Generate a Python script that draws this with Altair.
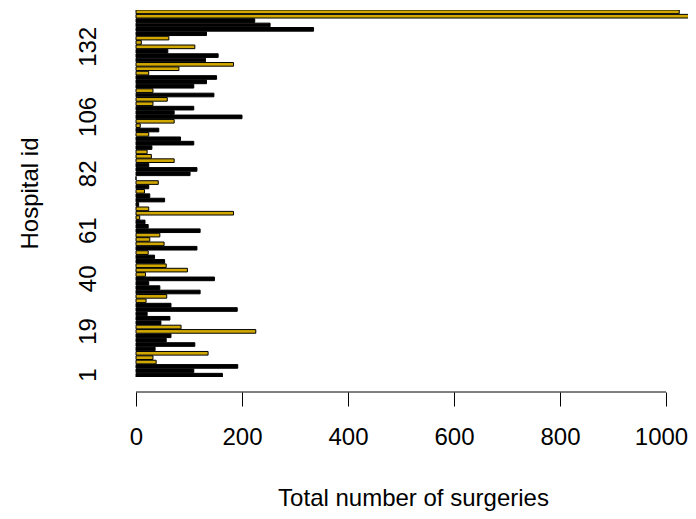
import altair as alt
import pandas as pd

# Hospital ids (bottom to top), total surgeries, and bar colour group
hospital_ids = [1, 3, 4, 6, 8, 10, 12, 13, 15, 17, 19,
                21, 22, 24, 26, 28, 29, 31, 33, 35, 36, 38, 40,
                42, 44, 45, 47, 49, 51, 53, 55, 57, 59, 61,
                63, 64, 66, 68, 70, 71, 72, 74, 75, 77, 79, 80, 82,
                84, 86, 88, 90, 92, 94, 96, 97, 99, 100, 102, 104, 106,
                108, 109, 111, 113, 115, 116, 118, 120, 121, 123, 124, 126, 127, 129, 130, 132,
                134, 136, 138, 139, 141, 143, 144, 146]
surgeries = [163, 109, 192, 38, 32, 136, 36, 111, 57, 66, 226,
             85, 47, 64, 21, 191, 66, 19, 58, 121, 45, 24, 148,
             18, 97, 57, 54, 35, 23, 115, 53, 26, 45, 121,
             23, 17, 7, 184, 24, 5, 54, 26, 16, 24, 42, 0, 102,
             115, 24, 72, 29, 21, 30, 109, 84, 24, 43, 8, 72, 200,
             72, 109, 32, 59, 147, 32, 109, 133, 152, 24, 81, 184, 131, 155, 60, 111,
             10, 62, 133, 335, 253, 224, 1090, 1025]
group = ["B", "B", "B", "G", "G", "G", "B", "B", "B", "B", "G",
         "G", "B", "B", "B", "B", "B", "G", "G", "B", "B", "B", "B",
         "G", "G", "G", "B", "B", "G", "B", "G", "G", "G", "B",
         "B", "B", "G", "G", "G", "B", "B", "B", "G", "B", "G", "B", "B",
         "B", "B", "G", "G", "G", "B", "B", "B", "G", "B", "G", "G", "B",
         "B", "B", "G", "G", "B", "G", "B", "B", "B", "G", "G", "G", "B", "B", "B", "G",
         "G", "G", "B", "B", "B", "B", "G", "G"]

y_tick_ids = [1, 19, 40, 61, 82, 106, 132]
x_ticks = [0, 200, 400, 600, 800, 1000]
axis_span = [0, 1000]

FONT = "Liberation Sans"
FS = 24
GOLD = "#D1A800"
PLOT_H = 367
X_AXIS_OFFSET = 15

df = pd.DataFrame({"id": hospital_ids, "total": surgeries, "grp": group})
axis_df = pd.DataFrame({"a": [axis_span[0]], "b": [axis_span[1]]})

x_scale = alt.Scale(domain=[-43.4, 1041.5], nice=False, zero=False)

bars = alt.Chart(df).transform_calculate(base="0").mark_bar(
    stroke="black", strokeWidth=1, clip=True
).encode(
    y=alt.Y(
        "id:O",
        sort="descending",
        scale=alt.Scale(paddingInner=0.1667, paddingOuter=0),
        axis=alt.Axis(
            values=y_tick_ids,
            ticks=False,
            tickSize=0,
            domain=False,
            grid=False,
            labelAngle=270,
            labelAlign="center",
            labelBaseline="middle",
            labelPadding=25,
            labelFont=FONT,
            labelFontSize=FS,
            labelColor="black",
            labelOverlap=False,
            title="Hospital id",
            titleFont=FONT,
            titleFontSize=FS,
            titleFontWeight="normal",
            titleColor="black",
            titleAngle=270,
            titleX=-83,
            titleY=183,
            titleAlign="center",
            titleBaseline="middle",
        ),
    ),
    x=alt.X(
        "total:Q",
        scale=x_scale,
        axis=alt.Axis(
            values=x_ticks,
            format="d",
            offset=X_AXIS_OFFSET,
            domain=False,
            grid=False,
            tickSize=14,
            tickColor="black",
            tickWidth=1,
            labelFont=FONT,
            labelFontSize=FS,
            labelColor="black",
            labelBaseline="middle",
            labelPadding=31,
            labelOffset=alt.condition("datum.value == 1000", alt.value(-5), alt.value(0)),
            labelFlush=False,
            labelOverlap=False,
            title="Total number of surgeries",
            titleFont=FONT,
            titleFontSize=FS,
            titleFontWeight="normal",
            titleColor="black",
            titleX=300,
            titleY=106,
            titleAlign="center",
            titleBaseline="middle",
        ),
    ),
    x2=alt.X2("base:Q"),
    color=alt.Color(
        "grp:N",
        scale=alt.Scale(domain=["B", "G"], range=["#000000", GOLD]),
        legend=None,
    ),
)

axis_line = alt.Chart(axis_df).mark_rule(color="black", strokeWidth=1).encode(
    x=alt.X("a:Q", scale=x_scale),
    x2="b:Q",
    y=alt.value(PLOT_H + X_AXIS_OFFSET),
)

chart = alt.layer(bars, axis_line).properties(
    width=575,
    height=PLOT_H,
    autosize=alt.AutoSizeParams(type="none"),
    padding={"left": 105, "top": 2, "right": 0, "bottom": 134},
).configure_view(strokeWidth=0)

chart.save("out.html", embed_options={"renderer": "svg", "actions": False})
